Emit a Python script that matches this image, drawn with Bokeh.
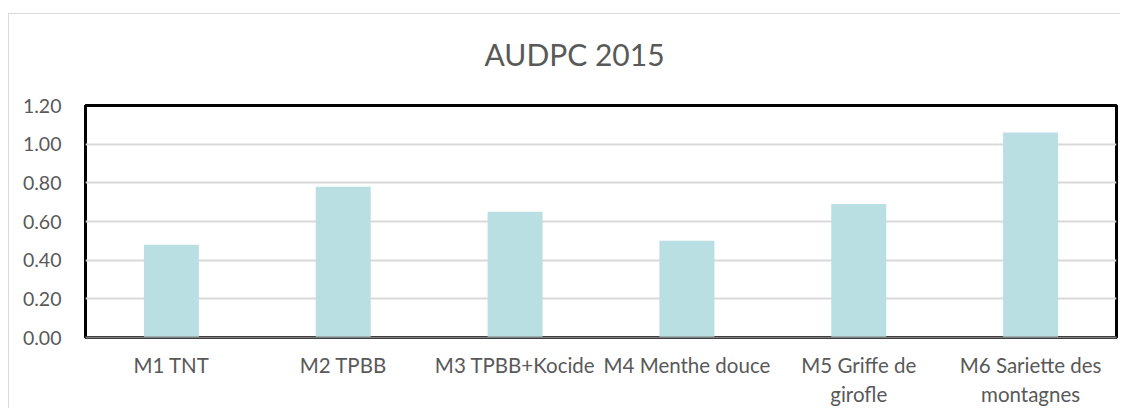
from bokeh.plotting import figure
from bokeh.models import (FixedTicker, NumeralTickFormatter, FactorRange, ColumnDataSource,
                          CategoricalAxis, CustomJSTickFormatter)
from bokeh.embed import file_html
from bokeh.resources import INLINE

categories = ["M1 TNT", "M2 TPBB", "M3 TPBB+Kocide", "M4 Menthe douce",
              "M5 Griffe de girofle", "M6 Sariette des montagnes"]
label_line1 = ["M1 TNT", "M2 TPBB", "M3 TPBB+Kocide", "M4 Menthe douce",
               "M5 Griffe de", "M6 Sariette des"]
label_line2 = ["", "", "", "", "girofle", "montagnes"]
values = [0.48, 0.78, 0.65, 0.50, 0.69, 1.06]
y_ticks = [0.0, 0.2, 0.4, 0.6, 0.8, 1.0, 1.2]

FONT = "Lato"
GRAY = "#595959"

src = ColumnDataSource(data=dict(cat=categories, val=values))

p = figure(x_range=FactorRange(factors=categories), y_range=(0, 1.2),
           width=1120, height=408, output_backend="svg", toolbar_location=None,
           min_border_left=85, min_border_right=4, min_border_top=105, min_border_bottom=40)
p.border_fill_alpha = 0
p.background_fill_color = "white"
p.styles = {
    "background": ("linear-gradient(#d9d9d9, #d9d9d9) 8px 13px / 100% 1px no-repeat, "
                   "linear-gradient(#d9d9d9, #d9d9d9) 8px 13px / 1px 100% no-repeat, white"),
}

p.vbar(x="cat", top="val", width=0.32, source=src, fill_color="#b9dfe3", line_color=None)

p.title.text = "AUDPC 2015"
p.title.align = "left"
p.title.vertical_align = "bottom"
p.title.text_font = FONT
p.title.text_font_size = "30px"
p.title.text_font_style = "normal"
p.title.text_color = GRAY
p.title.standoff = 67
p.title.offset = 399

p.outline_line_color = "black"
p.outline_line_width = 3
p.outline_line_alpha = 1

p.xgrid.grid_line_color = None
p.ygrid.grid_line_color = "#d9d9d9"
p.ygrid.grid_line_width = 2
p.ygrid.ticker = FixedTicker(ticks=y_ticks)

p.yaxis.ticker = FixedTicker(ticks=y_ticks)
p.yaxis.formatter = NumeralTickFormatter(format="0.00")
p.yaxis.axis_line_color = None
p.yaxis.major_tick_line_color = None
p.yaxis.minor_tick_line_color = None
p.yaxis.major_label_text_font = FONT
p.yaxis.major_label_text_font_size = "19.5px"
p.yaxis.major_label_text_color = GRAY
p.yaxis.major_label_standoff = 18

JS = "const i = cats.indexOf(tick); return i >= 0 ? labs[i] : '';"

ax1 = p.xaxis[0]
ax1.axis_line_color = "#7f7f7f"
ax1.axis_line_width = 2
ax1.major_tick_line_color = None
ax1.minor_tick_line_color = None
ax1.major_label_text_font = FONT
ax1.major_label_text_font_size = "20.5px"
ax1.major_label_text_color = GRAY
ax1.major_label_standoff = 9
ax1.formatter = CustomJSTickFormatter(args=dict(cats=categories, labs=label_line1), code=JS)

ax2 = CategoricalAxis(axis_line_color=None, major_tick_line_color=None,
                      minor_tick_line_color=None, major_label_text_font=FONT,
                      major_label_text_font_size="20.5px", major_label_text_color=GRAY,
                      major_label_standoff=-4,
                      formatter=CustomJSTickFormatter(args=dict(cats=categories, labs=label_line2),
                                                      code=JS))
p.add_layout(ax2, "below")

open("out.html", "w").write(file_html(p, INLINE))
